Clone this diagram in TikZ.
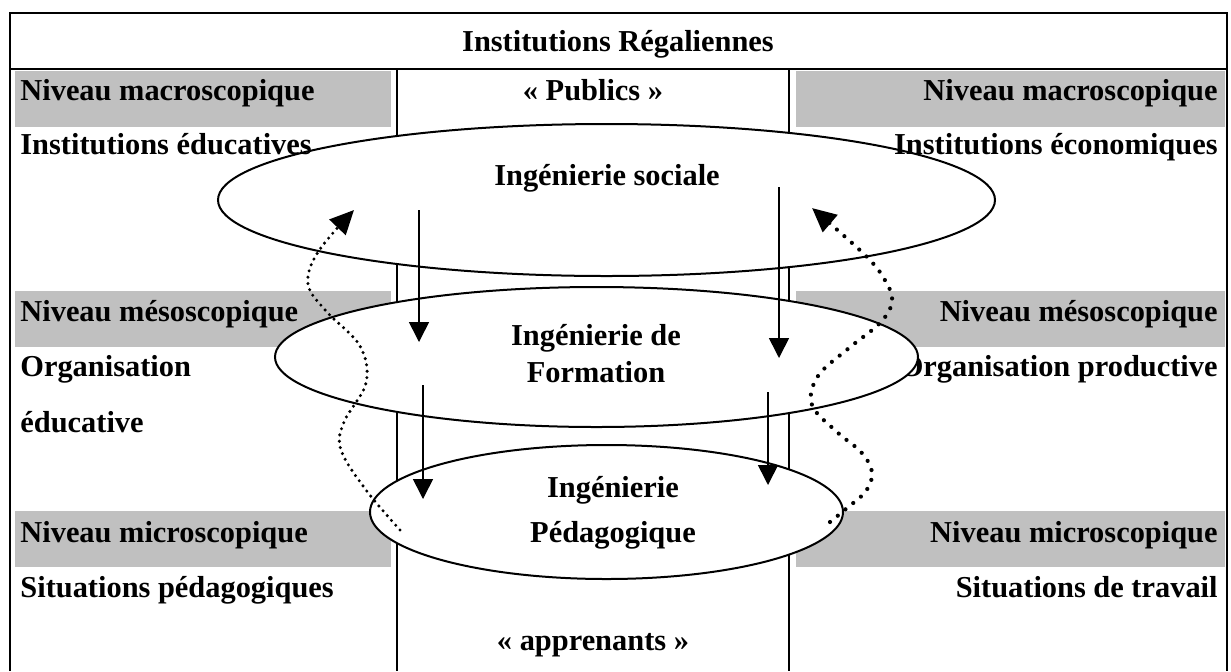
\documentclass[tikz,border=0pt]{standalone}
\usepackage{fontspec}
\setmainfont{Liberation Serif}
\usetikzlibrary{shapes.geometric,arrows.meta}

\definecolor{barGray}{RGB}{192,192,192}

\tikzset{
    txt/.style={font=\bfseries\fontsize{15.2pt}{18.5pt}\selectfont, inner sep=0pt},
    levelbar/.style={fill=barGray},
    ring/.style={ellipse, draw, fill=white, line width=1pt, inner sep=0pt},
    down/.style={-{Triangle[width=10pt,length=10pt]}, line width=0.8pt},
    loopback/.style={-{Triangle[width=11pt,length=12pt]}, line cap=round}
}

\begin{document}
\begin{tikzpicture}[x=0.5pt,y=-0.5pt]
        \useasboundingbox (0,0) rectangle (1231,671);

        % Frame and middle column
        \draw[line width=1pt] (10,671) -- (10,13) -- (1227,13) -- (1227,671);
        \draw[line width=1pt] (10,69) -- (1227,69);
        \draw[line width=1pt] (397,69) -- (397,671);
        \draw[line width=1pt] (789,69) -- (789,671);

        % Grey level bars (left and right)
        \foreach \ytop in {71,291,511} {
            \fill[levelbar] (15,\ytop) rectangle (391,\ytop+56);
            \fill[levelbar] (796,\ytop) rectangle (1225,\ytop+56);
        }

        % Header and middle column texts
        \node[txt, anchor=base] (regal) at (618,51) {Institutions Régaliennes};
        \node[txt, anchor=base] (publics) at (593,100) {« Publics »};
        \node[txt, anchor=base] (apprenants) at (593,650) {« apprenants »};

        % Level names
        \foreach \yb/\lvl/\nm in {100/macro/mac, 321/méso/mes, 542/micro/mic} {
            \node[txt, anchor=base west] (\nm L) at (20,\yb) {Niveau \lvl scopique};
            \node[txt, anchor=base east] (\nm R) at (1218,\yb) {Niveau \lvl scopique};
        }

        % Ingenierie sociale
        \node[ring, minimum width=388.5pt, minimum height=76pt] (sociale) at (606.5,200) {};
        \node[txt, anchor=base] (socialeT) at (607,185) {Ingénierie sociale};

        % Side texts
        \node[txt, anchor=base west] (eduInst) at (20,154) {Institutions éducatives};
        \node[txt, anchor=base east] (ecoInst) at (1218,154) {Institutions économiques};
        \node[txt, anchor=base west] (eduOrg) at (20,376) {Organisation};
        \node[txt, anchor=base west] (eduOrgB) at (20,432) {éducative};
        \node[txt, anchor=base east] (prodOrg) at (1218,376) {Organisation productive};
        \node[txt, anchor=base west] (eduSit) at (20,597) {Situations pédagogiques};
        \node[txt, anchor=base east] (travSit) at (1218,597) {Situations de travail};

        % Ingenierie de formation
        \node[ring, minimum width=321.5pt, minimum height=70pt] (formation) at (596.5,357) {};
        \node[txt, align=center, anchor=base] (formationT) at (596,382) {Ingénierie de\\Formation};

        % Ingenierie pedagogique
        \node[ring, minimum width=236.5pt, minimum height=67pt] (pedago) at (606.5,512) {};
        \node[txt, align=center, anchor=base] (pedagoT) at (613,542) {Ingénierie\\[4pt]Pédagogique};

        % Downward arrows
        \coordinate (sL) at (419,210);  \coordinate (fL1) at (419,342);
        \coordinate (sR) at (779,187);  \coordinate (fR1) at (779,358);
        \coordinate (fL2) at (423,385); \coordinate (pL) at (423,499);
        \coordinate (fR2) at (768,392); \coordinate (pR) at (768,485);
        \draw[down] (sL) -- (fL1);
        \draw[down] (sR) -- (fR1);
        \draw[down] (fL2) -- (pL);
        \draw[down] (fR2) -- (pR);

        % Dotted feedback loops
        \coordinate (backL) at (400,530);
        \coordinate (backR) at (830,522);
        \draw[loopback, line width=1.7pt, dash pattern=on 0pt off 3.2pt]
            plot[smooth, tension=0.6] coordinates {(backL) (366,490) (341,450) (344,422) (366,383)
                (360,346) (326,311) (308,284) (318,252) (354,210)};
        \draw[loopback, line width=2.1pt, dash pattern=on 0pt off 5pt]
            plot[smooth, tension=0.6] coordinates {(backR) (847,508) (866,491) (872,472) (861,452)
                (837,432) (812,405) (818,376) (849,348) (880,323) (892,302) (886,282) (866,256) (812,208)};
\end{tikzpicture}
\end{document}
